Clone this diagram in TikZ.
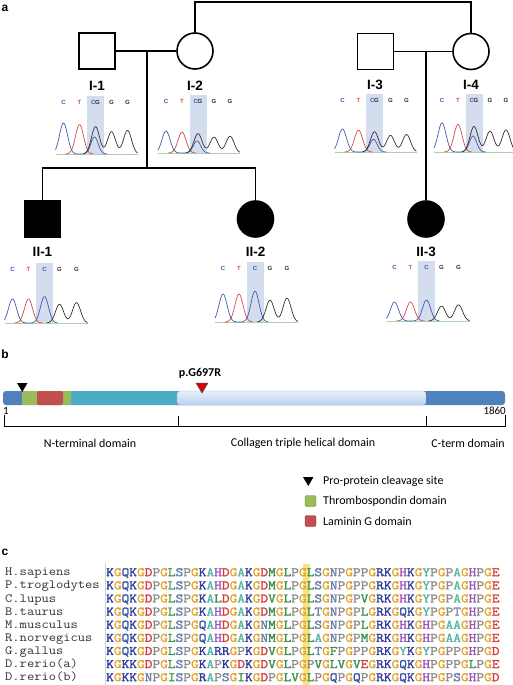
\documentclass[tikz,border=0pt]{standalone}
\usepackage{fontspec}
\setmainfont{Liberation Sans}
\newfontfamily\calfont{Carlito}
\newfontfamily\seqfont{Latin Modern Mono}[FakeStretch=1.152,FakeBold=1.8]
\newfontfamily\namefont{Latin Modern Mono}[FakeStretch=1.13]
\usetikzlibrary{shapes.geometric}
\definecolor{cb}{HTML}{4456B4}
\definecolor{cr}{HTML}{D84848}
\definecolor{ck}{HTML}{303030}
\definecolor{band}{HTML}{D3DDEE}
\definecolor{pdblue}{HTML}{4F81BD}
\definecolor{pteal}{HTML}{4BACC6}
\definecolor{plight}{HTML}{C6D9F1}
\definecolor{pgreen}{HTML}{9BBB59}
\definecolor{pred}{HTML}{C0504D}
\definecolor{hy}{HTML}{F7E384}
\definecolor{aaK}{HTML}{2F3C9E}
\definecolor{aaR}{HTML}{2F3C9E}
\definecolor{aaQ}{HTML}{3A55A5}
\definecolor{aaG}{HTML}{E2A42E}
\definecolor{aaD}{HTML}{D63A3A}
\definecolor{aaE}{HTML}{D63A3A}
\definecolor{aaP}{HTML}{8A8A8A}
\definecolor{aaL}{HTML}{3A9050}
\definecolor{aaM}{HTML}{3A9050}
\definecolor{aaV}{HTML}{3A9050}
\definecolor{aaI}{HTML}{3A9050}
\definecolor{aaF}{HTML}{3A9050}
\definecolor{aaA}{HTML}{55B5A5}
\definecolor{aaY}{HTML}{55B5A5}
\definecolor{aaH}{HTML}{9A50B5}
\definecolor{aaS}{HTML}{6A7FAA}
\definecolor{aaT}{HTML}{6A7FAA}
\definecolor{aaN}{HTML}{6A7FAA}
\newcommand\colseq[1]{\ifx\relax#1\else\textcolor{aa#1}{#1}\expandafter\colseq\fi}
\tikzset{
  ped/.style={line width=1.6pt},
  sq/.style={draw, line width=1.6pt, minimum size=36pt, inner sep=0pt},
  ci/.style={draw, circle, line width=1.6pt, minimum size=36pt, inner sep=0pt},
  lab/.style={font=\bfseries\fontsize{13.5}{13.5}\selectfont, inner sep=0pt},
  basel/.style={font=\bfseries\fontsize{6}{6}\selectfont, inner sep=0pt},
  trace/.style={line width=0.7pt},
  panel/.style={font=\bfseries\fontsize{12}{12}\selectfont, inner sep=0pt},
  cal/.style={font=\calfont\fontsize{12}{12}\selectfont, inner sep=0pt},
  spname/.style={font=\namefont\fontsize{12.5}{12.5}\selectfont, text=ck, inner sep=0pt, anchor=base west},
  seq/.style={font=\seqfont\fontsize{13}{13}\selectfont, inner sep=0pt, anchor=base west},
}
% heterozygous chromatogram: name, X, Y, H
\newcommand\chromhet[4]{%
\begin{scope}[shift={(#2,#3)}]
\fill[band] (-8.5,-58) rectangle (8.5,0.5);
\node[basel, text=cb] (#1a) at (-32,-52) {C};
\node[basel, text=cr] (#1b) at (-16,-52) {T};
\node[basel] (#1c) at (0,-52) {\textcolor{cb}{C}\kern-0.4pt\textcolor{ck}{G}};
\node[basel, text=ck] (#1d) at (16,-52) {G};
\node[basel, text=ck] (#1e) at (32,-52) {G};
\draw[brown!40!gray!60, line width=1pt] (-40,0.8) -- (42,0.8);
\draw[green!30!gray!50, line width=0.25pt] (-40,-0.3) -- (42,-0.3);
\draw[cr, trace] plot[domain=-30:-2, samples=50] (\x,{-0.95*#4*exp(-(((\x+16)/5.7)^2))});
\draw[cb, trace] plot[domain=-40:12, samples=80] (\x,{-#4*exp(-(((\x+32)/5.7)^2)) - 0.55*#4*exp(-(((\x+1)/5.2)^2))});
\draw[ck, trace] plot[domain=-12:42, samples=90] (\x,{-0.88*#4*exp(-(((\x)/5.7)^2)) - 0.72*#4*exp(-(((\x-16)/5.7)^2)) - 0.76*#4*exp(-(((\x-32)/5.7)^2))});
\end{scope}}
% homozygous chromatogram
\newcommand\chromhom[4]{%
\begin{scope}[shift={(#2,#3)}]
\fill[band] (-8.5,-60) rectangle (8.5,0.5);
\node[basel, text=cb] (#1a) at (-32,-54) {C};
\node[basel, text=cr] (#1b) at (-16,-54) {T};
\node[basel, text=cb] (#1c) at (0,-54) {C};
\node[basel, text=ck] (#1d) at (15,-54) {G};
\node[basel, text=ck] (#1e) at (32,-54) {G};
\draw[brown!40!gray!60, line width=1pt] (-40,0.8) -- (43,0.8);
\draw[green!30!gray!50, line width=0.25pt] (-40,-0.3) -- (43,-0.3);
\draw[cr, trace] plot[domain=-30:-2, samples=50] (\x,{-1.0*#4*exp(-(((\x+16)/5.7)^2))});
\draw[cb, trace] plot[domain=-40:13, samples=80] (\x,{-#4*exp(-(((\x+32)/5.7)^2)) - 1.1*#4*exp(-(((\x)/5.7)^2))});
\draw[ck, trace] plot[domain=2:43, samples=80] (\x,{-0.78*#4*exp(-(((\x-15)/5.7)^2)) - 0.85*#4*exp(-(((\x-32)/5.7)^2))});
\end{scope}}
\begin{document}
\begin{tikzpicture}[x=1pt,y=-1pt]
\useasboundingbox (0,0) rectangle (513,685);
% ---------------- panel a ----------------
\node[panel] (pa) at (5,8) {a};
\node[sq] (I1) at (97,51) {};
\node[ci] (I2) at (195,51) {};
\node[sq] (I3) at (375.5,51.5) {};
\node[ci] (I4) at (471,51.5) {};
\node[sq, fill=black] (II1) at (42.5,219) {};
\node[ci, fill=black] (II2) at (255.5,219) {};
\node[ci, fill=black] (II3) at (426,219) {};
\coordinate (top) at (0,2);
\draw[ped] (I2.north) -- (I2.north |- top) -- (I4.north |- top) -- (I4.north);
\draw[ped] (I1.east) -- (I2.west);
\draw[ped] (I3.east) -- (I4.west);
\coordinate (m1) at (147,51);
\coordinate (s1) at (147,168);
\draw[ped] (m1) -- (s1);
\draw[ped] (II1.north) |- (s1) -| (II2.north);
\coordinate (m2) at (426,51.5);
\draw[ped] (m2) -- (II3.north);
\node[lab] (lI1) at (97,86) {I-1};
\node[lab] (lI2) at (195,86) {I-2};
\node[lab] (lI3) at (375,85) {I-3};
\node[lab] (lI4) at (471,85) {I-4};
\node[lab] (lII1) at (42.5,252) {II-1};
\node[lab] (lII2) at (255.5,252) {II-2};
\node[lab] (lII3) at (426,252) {II-3};
\chromhet{cI1}{95.5}{154}{31}
\chromhet{cI2}{198}{153}{22}
\chromhet{cI3}{374.5}{152}{23}
\chromhet{cI4}{474}{152}{29}
\chromhom{cII1}{44.5}{323}{24}
\chromhom{cII2}{255}{322}{28}
\chromhom{cII3}{426.5}{321}{19}
% ---------------- panel b ----------------
\node[panel] (pb) at (5,354) {b};
\fill[pdblue, rounded corners=3pt] (3,391) rectangle (505,405);
\fill[pteal] (71,391) rectangle (177,405);
\fill[pgreen] (22,391) rectangle (71,405);
\fill[pred, rounded corners=2pt] (37,391) rectangle (63,405);
\shade[top color=plight!40!white, bottom color=plight!90!pdblue, rounded corners=3pt] (177,391) rectangle (426,405);
\draw[pdblue!60, line width=0.4pt, rounded corners=3pt] (177,391) rectangle (426,405);
\fill[black] (17,383) -- (27.5,383) -- (22.25,392) -- cycle;
\filldraw[fill=red!85!black, draw=black!70, line width=0.5pt] (196,383) -- (208,383) -- (202,393) -- cycle;
\node[cal, font=\calfont\bfseries\fontsize{12}{12}\selectfont] (mut) at (200,373) {p.G697R};
\node[cal, font=\calfont\fontsize{11}{11}\selectfont, anchor=west] (n1) at (3,411) {1};
\node[cal, font=\calfont\fontsize{11}{11}\selectfont, anchor=east] (n1860) at (506,411) {1860};
\coordinate (bl) at (4,426);
\coordinate (br) at (505,426);
\draw[line width=0.8pt] (4,415) -- (bl) -- (br) -- (505,415);
\draw[line width=0.8pt] (178,426) -- (178,416);
\draw[line width=0.8pt] (426,426) -- (426,416);
\node[cal] (dN) at (90,443) {N-terminal domain};
\node[cal] (dC) at (303,443) {Collagen triple helical domain};
\node[cal] (dT) at (468,443) {C-term domain};
% legend
\fill[black] (303,477) -- (313.5,477) -- (308.25,486) -- cycle;
\node[cal, anchor=west] (lg1) at (323,481) {Pro-protein cleavage site};
\filldraw[fill=pgreen, draw=pgreen!70!black, line width=0.4pt, rounded corners=1.5pt] (305,495.5) rectangle (316,506.5);
\node[cal, anchor=west] (lg2) at (323,501) {Thrombospondin domain};
\filldraw[fill=pred, draw=pred!70!black, line width=0.4pt, rounded corners=1.5pt] (305,515.5) rectangle (316,526.5);
\node[cal, anchor=west] (lg3) at (323,521) {Laminin G domain};
% ---------------- panel c ----------------
\node[panel] (pc) at (5,552) {c};
\fill[hy] (302.5,564) rectangle (310.4,685);
\draw[gray!35, line width=0.8pt] (105,563) -- (105,685);
\foreach \nm/\sq [count=\i from 0] in {
 H.sapiens/KGQKGDPGLSPGKAHDGAKGDMGLPGLSGNPGPPGRKGHKGYPGPAGHPGE,
 P.troglodytes/KGQKGDPGLSPGKAHDGAKGDMGLPGLSGNPGPPGRKGHKGYPGPAGHPGE,
 C.lupus/KGQKGDPGLSPGKALDGAKGDVGLPGLSGNPGPVGRKGHKGYPGPAGHPGE,
 B.taurus/KGQKGDPGLSPGKAHDGAKGDMGLPGLTGNPGPLGRKGQKGYPGPTGHPGE,
 M.musculus/KGQKGDPGLSPGQAHDGAKGNMGLPGLSGNPGPLGRKGHKGHPGAAGHPGE,
 R.norvegicus/KGQKGDPGLSPGQAHDGAKGNMGLPGLAGNPGPMGRKGHKGHPGAAGHPGE,
 G.gallus/KGQKGDPGLSPGKARRGPKGDVGLPGLTGFPGPPGRKGYKGYPGPPGHPGD,
 D.rerio(a)/KGKKGDPGLSPGKAPKGDKGDVGLPGPVGLVGVEGRKGQKGHPGPPGLPGE,
 D.rerio(b)/KGKKGNPGISPGRAPSGIKGDPGLVGLPGQPGQPGRKGQKGHPGPSGHPGD}
{
 \node[spname] (sp\i) at (5,{575.8+13.125*\i}) {\nm};
 \node[seq] (sq\i) at (106,{576.2+13.125*\i}) {\expandafter\colseq\sq\relax};
}
\end{tikzpicture}
\end{document}
